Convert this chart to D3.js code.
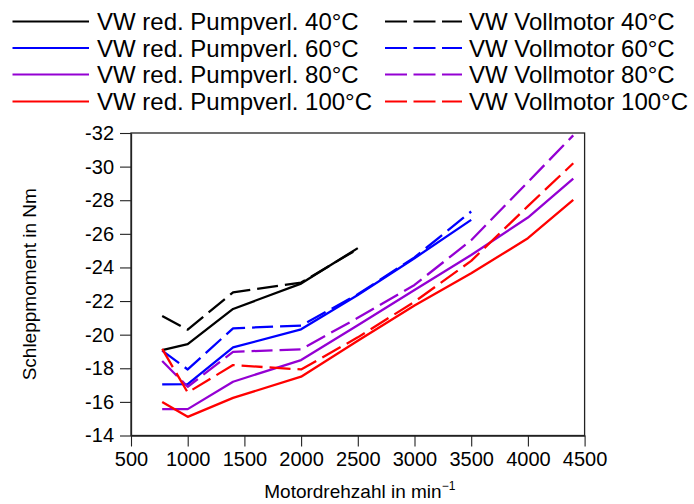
<!DOCTYPE html>
<html>
<head>
<meta charset="utf-8">
<script src="https://cdn.jsdelivr.net/npm/d3@7"></script>
<style>
  html, body { margin: 0; padding: 0; background: #fff; }
  svg { display: block; font-family: "Liberation Sans", Arial, sans-serif; }
</style>
</head>
<body>
<svg id="chart" width="694" height="504"></svg>
<script>
// ---------- data ----------
const speeds = [775, 1000, 1400, 2000, 2500, 3000, 3500, 4000, 4400];

const pump40 = [-19.08, -19.44, -21.53, -23.04, -25.15];
const voll40 = [-21.11, -20.30, -22.52, -23.10, -25.10];
const pump60 = [-17.04, -17.06, -19.24, -20.32, -22.36, -24.55, -26.83];
const voll60 = [-19.05, -17.93, -20.38, -20.54, -22.40, -24.60, -27.33];
const pump80 = [-15.57, -15.57, -17.20, -18.49, -20.56, -22.66, -24.74, -26.97, -29.28];
const voll80 = [-18.43, -16.90, -18.98, -19.13, -21.00, -22.96, -25.62, -29.08, -31.86];
const pump100 = [-16.00, -15.11, -16.24, -17.50, -19.64, -21.73, -23.65, -25.74, -28.02];
const voll100 = [-19.15, -16.56, -18.19, -17.93, -19.84, -21.96, -24.39, -27.65, -30.20];

const seriesNames = [
  "VW red. Pumpverl. 40°C", "VW red. Pumpverl. 60°C", "VW red. Pumpverl. 80°C", "VW red. Pumpverl. 100°C",
  "VW Vollmotor 40°C", "VW Vollmotor 60°C", "VW Vollmotor 80°C", "VW Vollmotor 100°C"
];
const seriesValues = [pump40, pump60, pump80, pump100, voll40, voll60, voll80, voll100];
const seriesColors = ["#000000", "#0000ff", "#9400d3", "#ff0000", "#000000", "#0000ff", "#9400d3", "#ff0000"];
const seriesDashed = [false, false, false, false, true, true, true, true];

const xTicks = [500, 1000, 1500, 2000, 2500, 3000, 3500, 4000, 4500];
const yTicks = [-14, -16, -18, -20, -22, -24, -26, -28, -30, -32];
const xTitle = "Motordrehzahl in min";
const yTitle = "Schleppmoment in Nm";

// ---------- layout ----------
const svg = d3.select("#chart");
const plot = { left: 131, right: 584.6, top: 133, bottom: 435.5 };

const x = d3.scaleLinear().domain([500, 4500]).range([plot.left, plot.right]);
const y = d3.scaleLinear().domain([-14, -32]).range([plot.bottom, plot.top]);

const axisColor = "#222";

// frame
svg.append("rect")
  .attr("x", plot.left).attr("y", plot.top)
  .attr("width", plot.right - plot.left).attr("height", plot.bottom - plot.top)
  .attr("fill", "none").attr("stroke", axisColor).attr("stroke-width", 1.3);

// axes
const xAxis = svg.append("g")
  .attr("transform", `translate(0,${plot.bottom})`)
  .call(d3.axisBottom(x).tickValues(xTicks).tickFormat(d => String(d)).tickSizeInner(11).tickSizeOuter(0).tickPadding(5));
const yAxis = svg.append("g")
  .attr("transform", `translate(${plot.left},0)`)
  .call(d3.axisLeft(y).tickValues(yTicks).tickFormat(d => String(d)).tickSizeInner(11).tickSizeOuter(0).tickPadding(6));

[xAxis, yAxis].forEach(g => {
  g.select(".domain").attr("stroke", axisColor).attr("stroke-width", 1.3);
  g.selectAll(".tick line").attr("stroke", axisColor).attr("stroke-width", 1.1);
  g.selectAll(".tick text").attr("fill", "#000").style("font-size", "20px")
    .style("font-family", "'Liberation Sans', Arial, sans-serif");
});

// axis titles
const xt = svg.append("text")
  .attr("x", (plot.left + plot.right) / 2 + 2).attr("y", 498)
  .attr("text-anchor", "middle")
  .style("font-size", "19px").attr("fill", "#000")
  .text(xTitle);
xt.append("tspan").attr("dy", -8).style("font-size", "12px").text("−1");

svg.append("text")
  .attr("transform", `translate(36,${(plot.top + plot.bottom) / 2}) rotate(-90)`)
  .attr("text-anchor", "middle")
  .style("font-size", "19px").attr("fill", "#000")
  .text(yTitle);

// lines
const line = d3.line()
  .x((d, i) => x(speeds[i]))
  .y(d => y(d));

const plotG = svg.append("g");
seriesValues.forEach((vals, k) => {
  plotG.append("path")
    .datum(vals)
    .attr("d", line)
    .attr("fill", "none")
    .attr("stroke", seriesColors[k])
    .attr("stroke-width", 2.3)
    .attr("stroke-linejoin", "round")
    .attr("stroke-dasharray", seriesDashed[k] ? "21,7" : null);
});

// legend
const legend = svg.append("g");
const colLineX = [[12.5, 89], [385, 462]];
const colTextX = [97, 469];
const rowY = [21.5, 48, 74.5, 101.5];
seriesNames.forEach((name, k) => {
  const col = k < 4 ? 0 : 1;
  const row = k % 4;
  legend.append("line")
    .attr("x1", colLineX[col][0]).attr("x2", colLineX[col][1])
    .attr("y1", rowY[row]).attr("y2", rowY[row])
    .attr("stroke", seriesColors[k]).attr("stroke-width", 2.2)
    .attr("stroke-dasharray", seriesDashed[k] ? "22,6.5" : null);
  legend.append("text")
    .attr("x", colTextX[col]).attr("y", rowY[row])
    .attr("dy", "0.36em")
    .style("font-size", "24px").attr("fill", "#000")
    .text(name);
});
</script>
</body>
</html>
